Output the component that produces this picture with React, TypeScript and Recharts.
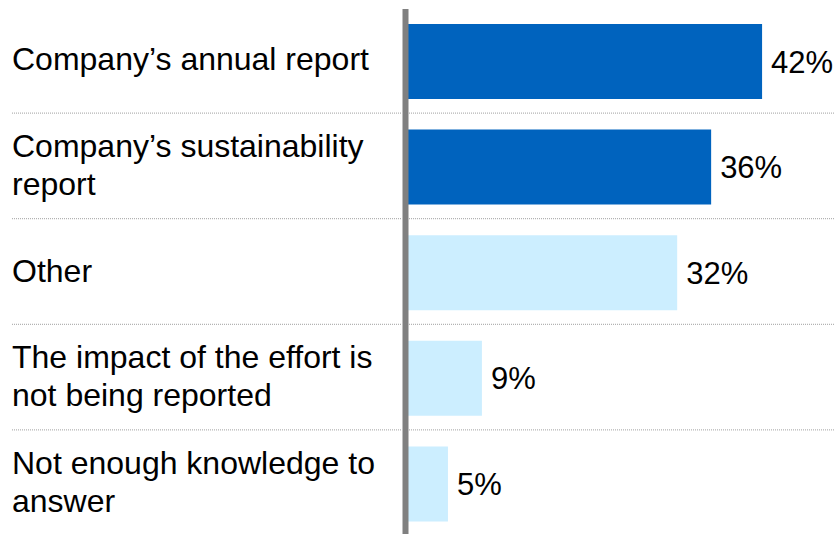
import { Bar, BarChart, Cell, LabelList, XAxis, YAxis } from "recharts";

const categories = [
  "Company’s annual report",
  "Company’s sustainability\nreport",
  "Other",
  "The impact of the effort is\nnot being reported",
  "Not enough knowledge to\nanswer",
];
const values = [42, 36, 32, 9, 5];
const barColors = ["#0063BE", "#0063BE", "#CCEEFF", "#CCEEFF", "#CCEEFF"];

const data = categories.map((name, i) => ({ name, value: values[i] }));

const W = 834;
const H = 540;
const TOP = 9;
const BOTTOM = 3;
const BAND = (H - TOP - BOTTOM) / categories.length;
const FONT = "'Liberation Sans', Arial, sans-serif";
const LINE_GAP = 38;

// label on the left + dotted separator under each row
const CategoryTick = (props: any) => {
  const { y, payload, index } = props;
  const lines = String(payload.value).split("\n");
  const capMid = y - 3;
  const first = capMid - ((lines.length - 1) * LINE_GAP) / 2 + 11.5;
  const sepY = y + BAND / 2 - 1.5;
  return (
    <g>
      <text x={12} y={first} fontSize={32} fontFamily={FONT} fill="#000" textAnchor="start">
        {lines.map((l, i) => (
          <tspan key={i} x={12} y={first + i * LINE_GAP}>
            {l}
          </tspan>
        ))}
      </text>
      {index < categories.length - 1 && (
        <>
          <line x1={12} x2={402} y1={sepY} y2={sepY} stroke="#A0A0A0" strokeDasharray="1 1" />
          <line x1={409} x2={W} y1={sepY} y2={sepY} stroke="#A0A0A0" strokeDasharray="1 1" />
        </>
      )}
    </g>
  );
};

export default function App() {
  return (
    <div
      style={{
        position: "fixed",
        left: 0,
        top: 0,
        width: 834,
        height: 534,
        overflow: "hidden",
        background: "#fff",
      }}
    >
      <BarChart
        width={W}
        height={H}
        data={data}
        layout="vertical"
        margin={{ top: TOP, right: 4, bottom: BOTTOM, left: 0 }}
      >
        <XAxis type="number" domain={[0, 50]} hide />
        <YAxis
          type="category"
          dataKey="name"
          width={405.5}
          axisLine={{ stroke: "#808080", strokeWidth: 6 }}
          tickLine={false}
          tick={<CategoryTick />}
          interval={0}
        />
        <Bar dataKey="value" barSize={75} isAnimationActive={false}>
          {data.map((d, i) => (
            <Cell key={d.name} fill={barColors[i]} />
          ))}
          <LabelList
            dataKey="value"
            position="right"
            offset={9}
            formatter={(v: any) => `${v}%`}
            fill="#000"
            fontSize={31}
            fontFamily={FONT}
          />
        </Bar>
      </BarChart>
    </div>
  );
}
